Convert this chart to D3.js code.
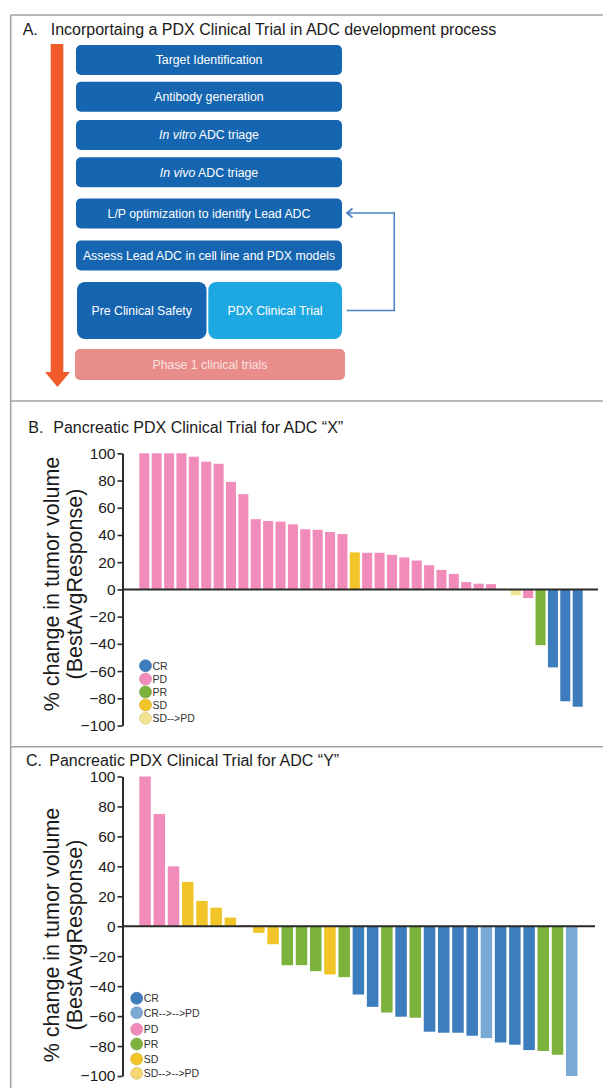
<!DOCTYPE html>
<html>
<head>
<meta charset="utf-8">
<script src="https://cdn.jsdelivr.net/npm/d3@7"></script>
<style>
  body { margin: 0; background: #fff; }
  svg { display: block; font-family: "Liberation Sans", Arial, Helvetica, sans-serif; }
</style>
</head>
<body>
<div id="chart"></div>
<script>
// ---- data ----
const stepItalic = ["", "", "In vitro", "In vivo", "", ""];
const stepText = ["Target Identification", "Antibody generation", " ADC triage", " ADC triage",
    "L/P optimization to identify Lead ADC", "Assess Lead ADC in cell line and PDX models"];
const splitSteps = ["Pre Clinical Safety", "PDX Clinical Trial"];
const finalStep = "Phase 1 clinical trials";

const titles = ["Incorportaing a PDX Clinical Trial in ADC development process",
    "Pancreatic PDX Clinical Trial for ADC \u201CX\u201D",
    "Pancreatic PDX Clinical Trial for ADC \u201CY\u201D"];
const panelLetters = ["A.", "B.", "C."];

const bValues = [100, 100, 100, 100, 97.5, 93.8, 92.3, 79, 70, 51.6, 50.2, 49.8, 47.8, 44.2, 43.8, 42.2, 40.7,
    27.2, 26.9, 26.9, 25.4, 23.5, 21.2, 17.8, 14.3, 11.4, 5.4, 4.2, 3.9, 0.6, -4.4, -6.4, -41, -57.3, -82.2, -86.2];
const bStatus = ["PD", "PD", "PD", "PD", "PD", "PD", "PD", "PD", "PD", "PD", "PD", "PD", "PD", "PD", "PD", "PD", "PD",
    "SD", "PD", "PD", "PD", "PD", "PD", "PD", "PD", "PD", "PD", "PD", "PD", "SD-->PD", "SD-->PD", "PD",
    "PR", "CR", "CR", "CR"];
const bLegend = ["CR", "PD", "PR", "SD", "SD-->PD"];

const cValues = [100, 75, 40, 29.6, 16.9, 12.4, 5.8, 0.8, -4.4, -12, -26, -26, -30, -32.2, -34, -45.6, -53.8,
    -57.6, -60.4, -61.1, -70.4, -71.1, -71.1, -73.1, -74.7, -77.6, -79.1, -82.7, -83.3, -85.8, -100];
const cStatus = ["PD", "PD", "PD", "SD", "SD", "SD", "SD", "PD", "SD", "SD", "PR", "PR", "PR", "SD", "PR",
    "CR", "CR", "PR", "CR", "PR", "CR", "CR", "CR", "CR", "CR-->PD", "CR", "CR", "CR", "PR", "PR", "CR-->PD"];
const cLegend = ["CR", "CR-->-->PD", "PD", "PR", "SD", "SD-->-->PD"];

const yTicks = [100, 80, 60, 40, 20, 0, -20, -40, -60, -80, -100];
const yTitle = ["% change in tumor volume", "(BestAvgResponse)"];

const colors = {
    "CR": "#3d7dbd", "CR-->PD": "#79a9d4", "CR-->-->PD": "#79a9d4",
    "PD": "#f18cba", "PR": "#7db33d", "SD": "#f1c52a",
    "SD-->PD": "#f3e494", "SD-->-->PD": "#f6d873"
};

// ---- canvas ----
const W = 603, H = 1088;
const svg = d3.select("#chart").append("svg").attr("width", W).attr("height", H);

// frame lines
const frame = svg.append("g").attr("stroke", "#a3a3a3").attr("stroke-width", 1.5);
frame.append("line").attr("x1", 10.7).attr("x2", 10.7).attr("y1", 15).attr("y2", H);
[15, 401, 746.7].forEach(y => {
    frame.append("line").attr("x1", 10.7).attr("x2", W).attr("y1", y).attr("y2", y);
});

// panel titles
const titlePos = [[22.7, 50.7, 34.5], [28.3, 53.3, 433], [26, 49.3, 766]];
titlePos.forEach((p, i) => {
    svg.append("text").attr("x", p[0]).attr("y", p[2]).attr("font-size", 16).attr("fill", "#1a1a1a").text(panelLetters[i]);
    svg.append("text").attr("x", p[1]).attr("y", p[2]).attr("font-size", 16).attr("fill", "#1a1a1a").text(titles[i]);
});

// ---- panel A: flow diagram ----
const A = svg.append("g");
// orange arrow
A.append("rect").attr("x", 50.7).attr("y", 44).attr("width", 12.6).attr("height", 329).attr("fill", "#f15a2b");
A.append("path").attr("d", "M45,372 L70,372 L57.5,387 Z").attr("fill", "#f15a2b");

const rowTops = [45, 81.7, 120, 157.3, 198.5, 240.5];
stepText.forEach((t, i) => {
    A.append("rect").attr("x", 76).attr("y", rowTops[i]).attr("width", 266).attr("height", 30)
        .attr("rx", 5).attr("fill", "#1565b0");
    const txt = A.append("text").attr("x", 209).attr("y", rowTops[i] + 19.3).attr("text-anchor", "middle")
        .attr("font-size", 12.3).attr("fill", "#fff");
    if (stepItalic[i]) txt.append("tspan").attr("font-style", "italic").text(stepItalic[i]);
    txt.append("tspan").text(t);
});

A.append("rect").attr("x", 77).attr("y", 282).attr("width", 129.5).attr("height", 57).attr("rx", 8).attr("fill", "#1565b0");
A.append("rect").attr("x", 208.3).attr("y", 282).attr("width", 133.7).attr("height", 57).attr("rx", 8).attr("fill", "#1ea8e2");
A.append("text").attr("x", 141.7).attr("y", 315).attr("text-anchor", "middle").attr("font-size", 12.3).attr("fill", "#fff").text(splitSteps[0]);
A.append("text").attr("x", 275).attr("y", 315).attr("text-anchor", "middle").attr("font-size", 12.3).attr("fill", "#fff").text(splitSteps[1]);

A.append("rect").attr("x", 75).attr("y", 349).attr("width", 270).attr("height", 31).attr("rx", 5).attr("fill", "#e98d8a");
A.append("text").attr("x", 210).attr("y", 369).attr("text-anchor", "middle").attr("font-size", 12.3).attr("fill", "#fbe1e0").text(finalStep);

// feedback connector
A.append("path").attr("d", "M346.7,310.5 H394.3 V213 H347").attr("fill", "none").attr("stroke", "#4a80c4").attr("stroke-width", 1.5);
A.append("path").attr("d", "M352.5,208.5 L347,213 L352.5,217.5").attr("fill", "none").attr("stroke", "#4a80c4").attr("stroke-width", 1.8);

// ---- waterfall panels ----
function waterfall(cfg) {
    const g = svg.append("g");
    const x = d3.scaleBand().domain(d3.range(cfg.values.length)).range(cfg.xRange).paddingInner(0.19).paddingOuter(0);
    const y = d3.scaleLinear().domain([-100, 100]).range(cfg.yRange);

    g.selectAll("rect.bar").data(cfg.values).enter().append("rect").attr("class", "bar")
        .attr("x", (d, i) => x(i))
        .attr("width", x.bandwidth())
        .attr("y", d => y(Math.max(0, d)))
        .attr("height", d => Math.abs(y(d) - y(0)))
        .attr("fill", (d, i) => colors[cfg.status[i]]);

    const axis = g.append("g").attr("transform", `translate(${cfg.axisX},0)`)
        .call(d3.axisLeft(y).tickValues(yTicks).tickSize(5).tickSizeOuter(0).tickPadding(2).tickFormat(d3.format("d")));
    axis.select(".domain").attr("stroke", "#2a2a2a").attr("stroke-width", 2);
    axis.selectAll(".tick line").attr("stroke", "#2a2a2a").attr("stroke-width", 1.6);
    axis.selectAll(".tick text").attr("font-size", 15.5).attr("fill", "#1a1a1a")
        .attr("font-family", "'Liberation Sans', Arial, sans-serif");

    g.append("line").attr("x1", cfg.axisX).attr("x2", cfg.baseEnd).attr("y1", y(0)).attr("y2", y(0))
        .attr("stroke", "#2a2a2a").attr("stroke-width", 2);

    yTitle.forEach((t, i) => {
        g.append("text").attr("transform", `translate(${58.5 + i * 23},${cfg.titleMid}) rotate(-90)`)
            .attr("text-anchor", "middle").attr("font-size", 21.5).attr("fill", "#1a1a1a").text(t);
    });

    const leg = g.append("g");
    cfg.legend.forEach((k, i) => {
        const cy = cfg.legendY[i];
        leg.append("circle").attr("cx", cfg.legendX).attr("cy", cy).attr("r", 6)
            .attr("fill", colors[k]).attr("stroke", d3.color(colors[k]).darker(0.4)).attr("stroke-width", 0.6);
        leg.append("text").attr("x", cfg.legendX + 7).attr("y", cy + 3.8).attr("font-size", 10.5)
            .attr("fill", "#333").text(k);
    });
}

waterfall({
    values: bValues, status: bStatus, legend: bLegend,
    xRange: [139.3, 582.7], yRange: [725.5, 453.3], axisX: 122.5, baseEnd: 598, titleMid: 584,
    legendX: 145.5, legendY: [665.7, 679, 692, 705, 718.3]
});

waterfall({
    values: cValues, status: cStatus, legend: cLegend,
    xRange: [139.3, 577.5], yRange: [1076, 776.5], axisX: 122.5, baseEnd: 595, titleMid: 935,
    legendX: 136.7, legendY: [998.3, 1012.7, 1029.3, 1044, 1059, 1073.3]
});
</script>
</body>
</html>
